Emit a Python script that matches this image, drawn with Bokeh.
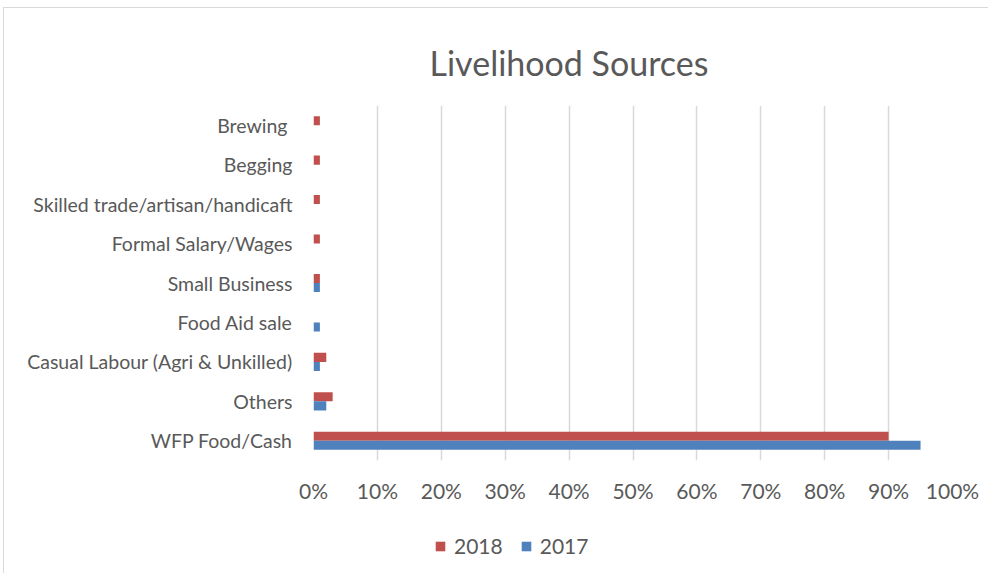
from bokeh.plotting import figure
from bokeh.layouts import column
from bokeh.models import FactorRange, Range1d, NumeralTickFormatter, Legend, LegendItem, Title, FixedTicker
from bokeh.transform import dodge
from bokeh.embed import file_html
from bokeh.resources import INLINE
from bokeh.models import ColumnDataSource

categories = ["WFP Food/Cash", "Others", "Casual Labour (Agri & Unkilled)", "Food Aid sale",
              "Small Business", "Formal Salary/Wages", "Skilled trade/artisan/handicaft",
              "Begging", "Brewing "]
values_2018 = [0.90, 0.03, 0.02, 0.0, 0.01, 0.01, 0.01, 0.01, 0.01]
values_2017 = [0.95, 0.02, 0.01, 0.01, 0.01, 0.0, 0.0, 0.0, 0.0]
x_ticks = [0, 0.1, 0.2, 0.3, 0.4, 0.5, 0.6, 0.7, 0.8, 0.9, 1.0]
series = ["2018", "2017"]
colors = ["#c0504d", "#4f81bd"]

FONT = "Lato"
GREY = "#595959"

src = ColumnDataSource(dict(cat=categories, v18=values_2018, v17=values_2017))

# layout is placed at (3, 7) with a light border on its left and top
p = figure(width=984, height=513, y_range=FactorRange(*categories, range_padding=0),
           x_range=Range1d(0, 1.0), output_backend="svg", toolbar_location=None,
           min_border_left=309, min_border_right=36, min_border_top=97, min_border_bottom=61)

p.hbar(y=dodge("cat", 0.115, range=p.y_range), right="v18", height=0.23, source=src,
       fill_color=colors[0], line_color=None)
p.hbar(y=dodge("cat", -0.115, range=p.y_range), right="v17", height=0.23, source=src,
       fill_color=colors[1], line_color=None)

p.outline_line_color = None
p.ygrid.grid_line_color = None
p.xgrid.grid_line_color = "#d9d9d9"
p.xgrid.grid_line_width = 1.5
p.xaxis.ticker = FixedTicker(ticks=x_ticks)
p.xaxis.formatter = NumeralTickFormatter(format="0%")
for ax in (p.xaxis[0], p.yaxis[0]):
    ax.axis_line_color = None
    ax.major_tick_line_color = None
    ax.minor_tick_line_color = None
    ax.major_label_text_font = FONT
    ax.major_label_text_color = GREY
p.xaxis.major_label_text_font_size = "21px"
p.xaxis.major_label_standoff = 11
p.yaxis.major_label_text_font_size = "19.5px"
p.yaxis.major_label_standoff = 15

p.add_layout(Title(text="Livelihood Sources", text_font=FONT, text_font_size="34px",
                   text_font_style="normal", text_color=GREY, align="left", offset=116,
                   standoff=46), "above")

# legend in a small companion figure below the chart
lg = figure(width=984, height=52, output_backend="svg", toolbar_location=None,
            min_border=0, x_range=Range1d(0, 1), y_range=Range1d(0, 1))
lg.axis.visible = False
lg.grid.visible = False
lg.outline_line_color = None
items = []
for name, col in zip(series, colors):
    # zero-size dummy bar: it only feeds the legend swatch
    r = lg.hbar(y=[0.5], right=[0], height=0, fill_color=col, line_color=None)
    items.append(LegendItem(label=name, renderers=[r]))
legend = Legend(items=items, orientation="horizontal", location=(121, 15),
                label_text_font=FONT, label_text_font_size="21px", label_text_color=GREY,
                glyph_width=12, glyph_height=12, spacing=17, label_standoff=8,
                padding=8, margin=0,
                border_line_color=None, background_fill_alpha=0)
lg.add_layout(legend, "center")

layout = column(p, lg, spacing=0)
layout.styles = {"border-left": "1.5px solid #d9d9d9", "border-top": "1.5px solid #d9d9d9",
                 "margin-left": "3px", "margin-top": "7px"}

open("out.html", "w").write(file_html(layout, INLINE))
